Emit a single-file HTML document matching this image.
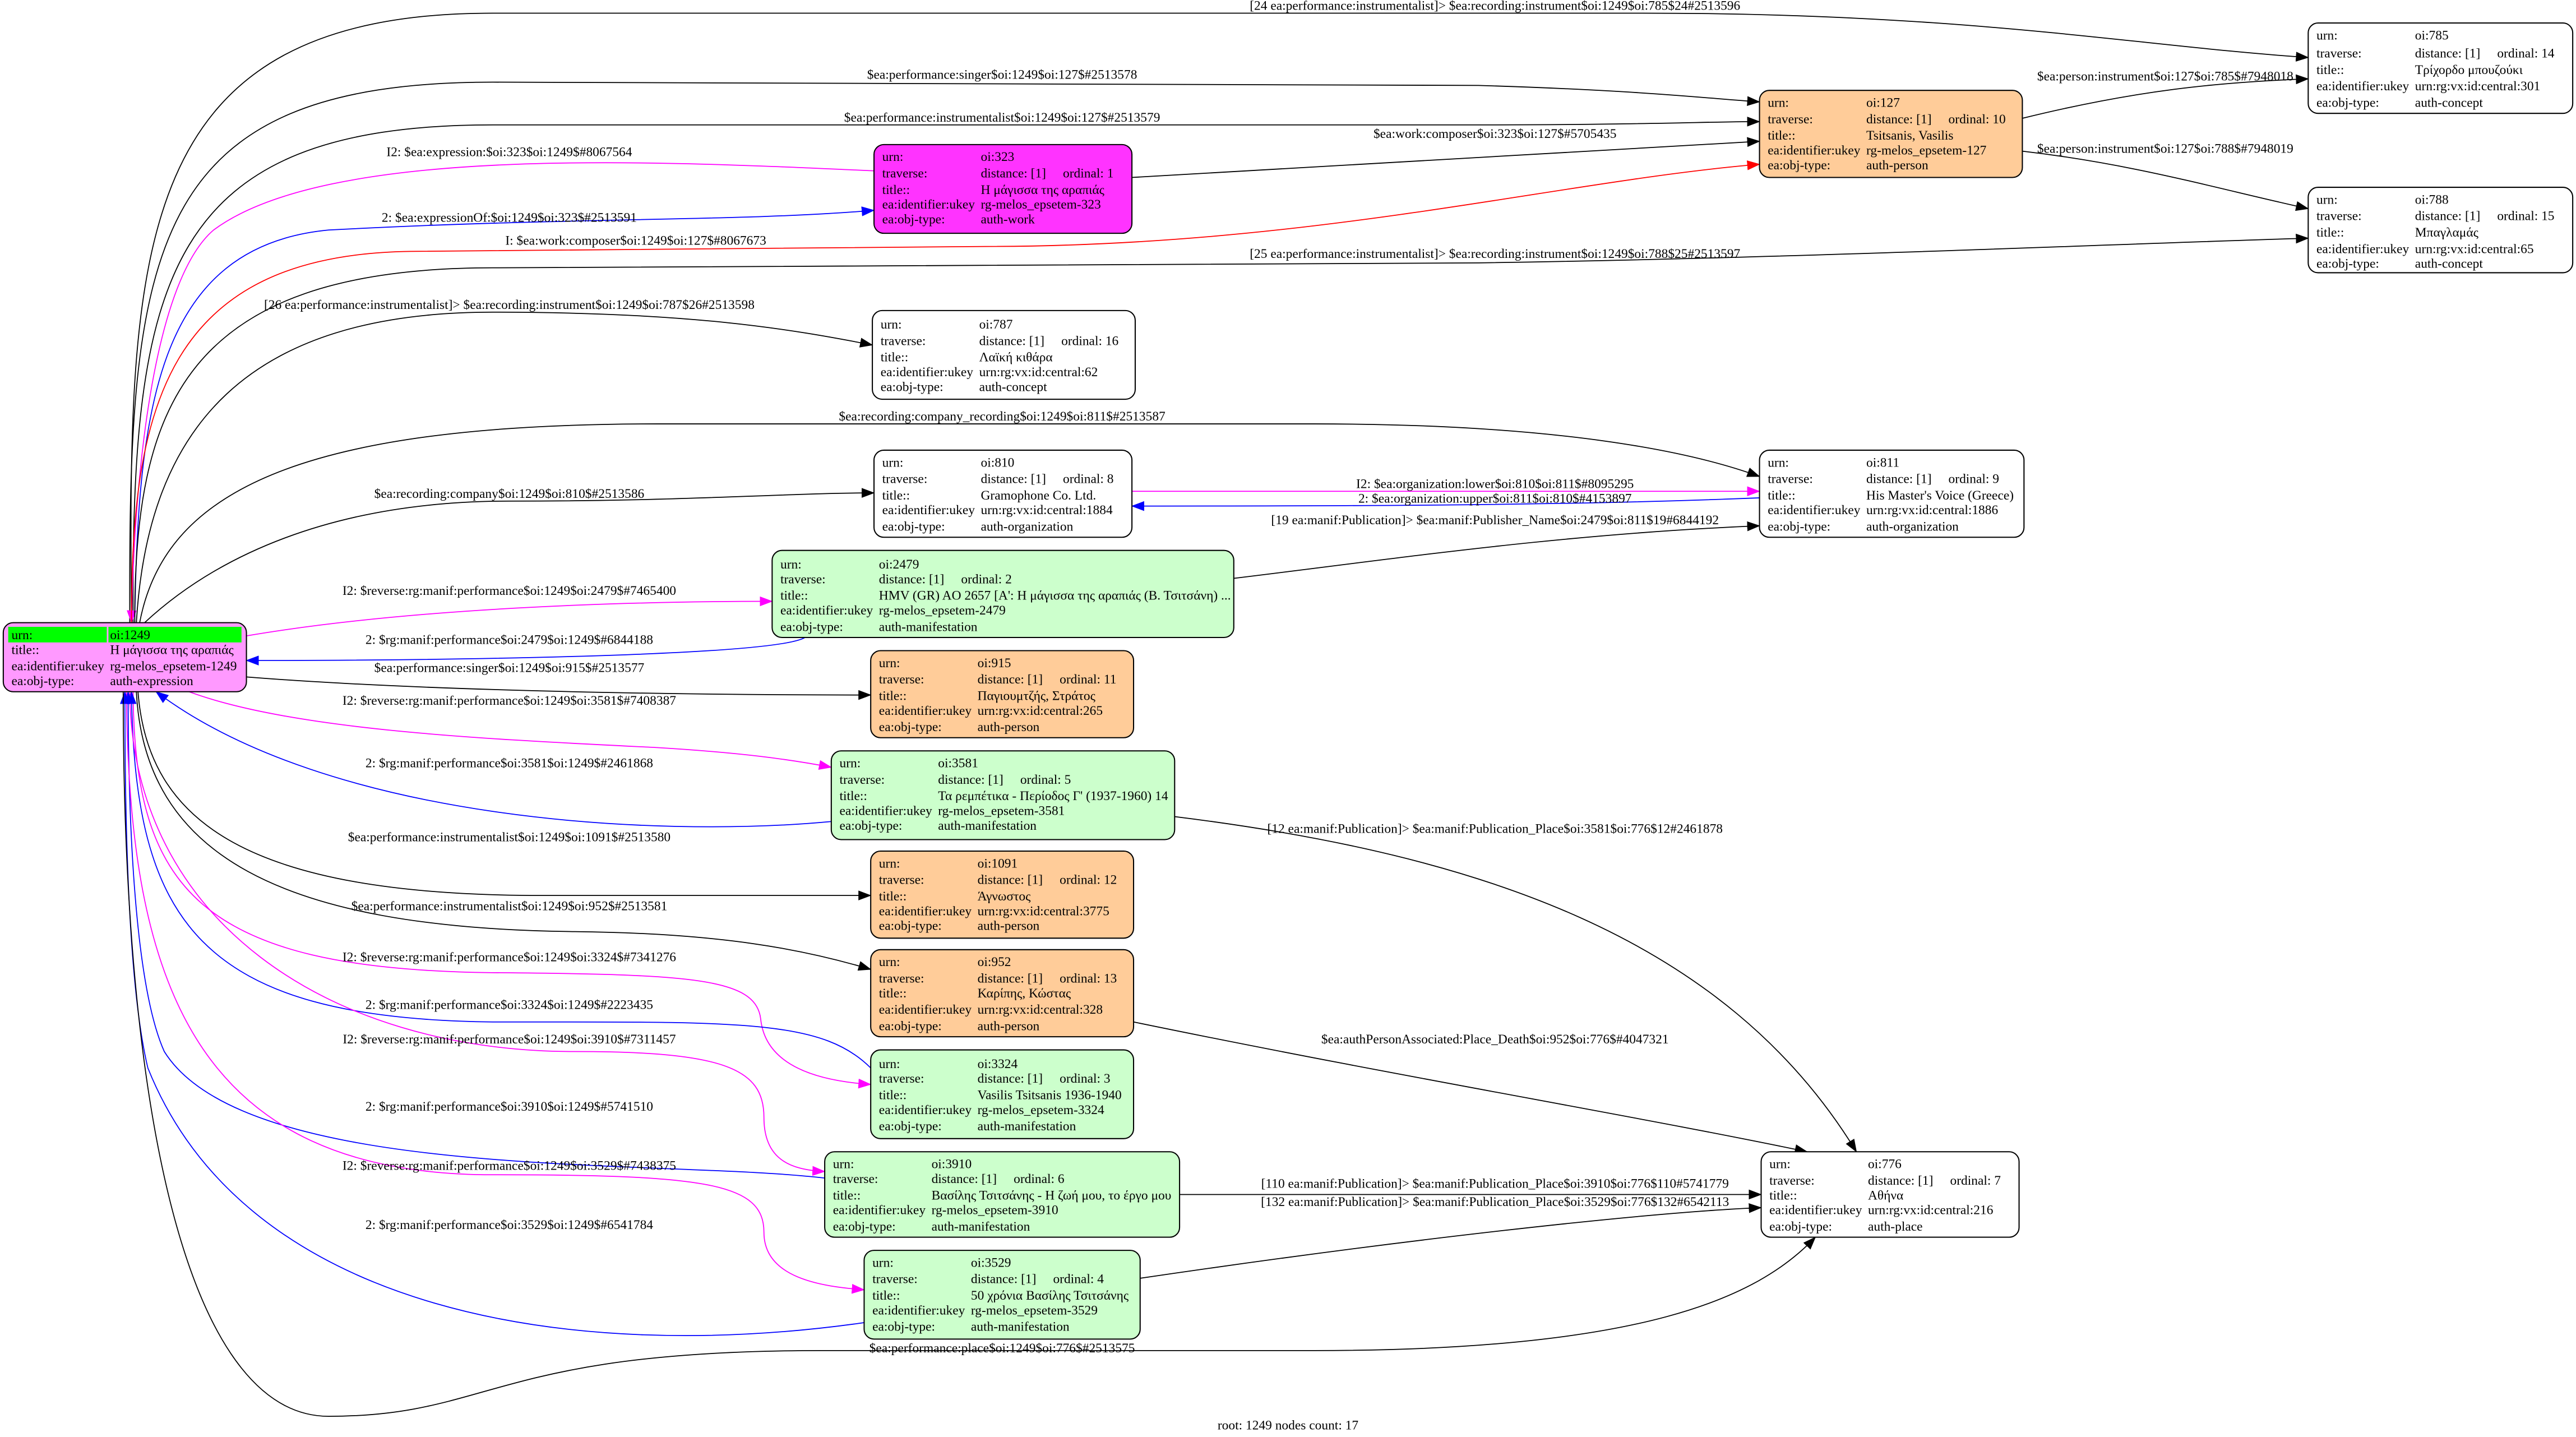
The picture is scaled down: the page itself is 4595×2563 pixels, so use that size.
<!DOCTYPE html>
<html><head><meta charset="utf-8"><style>
html,body{margin:0;padding:0;background:#fff;}
svg{display:block;}
text{font-family:"Liberation Serif","DejaVu Serif",serif;font-size:8px;fill:#000;}
.n{stroke:#000;stroke-width:0.7;}
.e{fill:none;stroke-width:0.6;}
.k{stroke:#000;}.m{stroke:#ff00ff;}.b{stroke:#0000ff;}.r{stroke:#ff0000;}
.lbl{text-anchor:middle;transform:translateY(-2px);}
</style></head><body>
<svg width="4595" height="2563" viewBox="0 0 1568 874.6" xmlns="http://www.w3.org/2000/svg">
<defs>
<marker id="ak" markerWidth="8" markerHeight="6" refX="7.5" refY="3" orient="auto" markerUnits="userSpaceOnUse"><path d="M0,0 L8,3 L0,6z" fill="#000"/></marker>
<marker id="am" markerWidth="8" markerHeight="6" refX="7.5" refY="3" orient="auto" markerUnits="userSpaceOnUse"><path d="M0,0 L8,3 L0,6z" fill="#ff00ff"/></marker>
<marker id="ab" markerWidth="8" markerHeight="6" refX="7.5" refY="3" orient="auto" markerUnits="userSpaceOnUse"><path d="M0,0 L8,3 L0,6z" fill="#0000ff"/></marker>
<marker id="ar" markerWidth="8" markerHeight="6" refX="7.5" refY="3" orient="auto" markerUnits="userSpaceOnUse"><path d="M0,0 L8,3 L0,6z" fill="#ff0000"/></marker>
</defs>
<rect width="1568" height="875" fill="#fff"/>

<path class="e k" marker-end="url(#ak)" d="M80,379 C78,150 80,8 300,8 L1000,8 C1200,8 1300,28 1405,35"/>
<text class="lbl" x="910" y="8">[24 ea:performance:instrumentalist]&gt; $ea:recording:instrument$oi:1249$oi:785$24#2513596</text>
<path class="e k" marker-end="url(#ak)" d="M79,379 C78,150 90,50 300,50 L900,52 C1000,55 1040,60 1071,62"/>
<text class="lbl" x="610" y="50">$ea:performance:singer$oi:1249$oi:127$#2513578</text>
<path class="e k" marker-end="url(#ak)" d="M81,379 C80,170 100,76 300,76 L900,76 C1000,76 1040,74 1071,74"/>
<text class="lbl" x="610" y="76">$ea:performance:instrumentalist$oi:1249$oi:127$#2513579</text>
<path class="e k" marker-end="url(#ak)" d="M689,108 L1071,86"/>
<text class="lbl" x="910" y="86">$ea:work:composer$oi:323$oi:127$#5705435</text>
<path class="e m" marker-end="url(#am)" d="M532,104 C400,98 200,88 130,140 C95,170 82,280 80,379"/>
<text class="lbl" x="310" y="97">I2: $ea:expression:$oi:323$oi:1249$#8067564</text>
<path class="e b" marker-end="url(#ab)" d="M82,379 C84,250 95,150 200,140 C350,132 450,135 532,128"/>
<text class="lbl" x="310" y="137">2: $ea:expressionOf:$oi:1249$oi:323$#2513591</text>
<path class="e r" marker-end="url(#ar)" d="M80,379 C80,250 100,155 250,153 L600,150 C800,150 950,110 1071,100"/>
<text class="lbl" x="387" y="151">I: $ea:work:composer$oi:1249$oi:127$#8067673</text>
<path class="e k" marker-end="url(#ak)" d="M82,379 C82,250 110,163 300,163 L900,160 C1100,157 1300,148 1405,145"/>
<text class="lbl" x="910" y="159">[25 ea:performance:instrumentalist]&gt; $ea:recording:instrument$oi:1249$oi:788$25#2513597</text>
<path class="e k" marker-end="url(#ak)" d="M83,379 C90,260 150,190 300,190 C420,190 480,200 531,210"/>
<text class="lbl" x="310" y="190">[26 ea:performance:instrumentalist]&gt; $ea:recording:instrument$oi:1249$oi:787$26#2513598</text>
<path class="e k" marker-end="url(#ak)" d="M85,379 C100,300 180,258 400,258 L800,258 C950,258 1030,275 1071,290"/>
<text class="lbl" x="610" y="258">$ea:recording:company_recording$oi:1249$oi:811$#2513587</text>
<path class="e k" marker-end="url(#ak)" d="M88,379 C130,340 200,305 310,305 C420,305 480,300 532,300"/>
<text class="lbl" x="310" y="305">$ea:recording:company$oi:1249$oi:810$#2513586</text>
<path class="e m" marker-end="url(#am)" d="M689,299 L1071,299"/>
<text class="lbl" x="910" y="299">I2: $ea:organization:lower$oi:810$oi:811$#8095295</text>
<path class="e b" marker-end="url(#ab)" d="M1071,303 C950,308 800,308 689,308"/>
<text class="lbl" x="910" y="308">2: $ea:organization:upper$oi:811$oi:810$#4153897</text>
<path class="e k" marker-end="url(#ak)" d="M751,352 C850,340 950,325 1071,320"/>
<text class="lbl" x="910" y="321">[19 ea:manif:Publication]&gt; $ea:manif:Publisher_Name$oi:2479$oi:811$19#6844192</text>
<path class="e m" marker-end="url(#am)" d="M150,387 C250,370 380,366 470,366"/>
<text class="lbl" x="310" y="364">I2: $reverse:rg:manif:performance$oi:1249$oi:2479$#7465400</text>
<path class="e b" marker-end="url(#ab)" d="M490,388 C470,400 250,402 150,402"/>
<text class="lbl" x="310" y="394">2: $rg:manif:performance$oi:2479$oi:1249$#6844188</text>
<path class="e k" marker-end="url(#ak)" d="M150,412 C250,420 400,423 530,423"/>
<text class="lbl" x="310" y="411">$ea:performance:singer$oi:1249$oi:915$#2513577</text>
<path class="e m" marker-end="url(#am)" d="M115,421 C180,445 300,450 400,455 C450,458 480,462 506,467"/>
<text class="lbl" x="310" y="431">I2: $reverse:rg:manif:performance$oi:1249$oi:3581$#7408387</text>
<path class="e b" marker-end="url(#ab)" d="M506,500 C400,510 200,500 95,421"/>
<text class="lbl" x="310" y="469">2: $rg:manif:performance$oi:3581$oi:1249$#2461868</text>
<path class="e k" marker-end="url(#ak)" d="M84,421 C90,500 150,545 330,545 L530,545"/>
<text class="lbl" x="310" y="514">$ea:performance:instrumentalist$oi:1249$oi:1091$#2513580</text>
<path class="e k" marker-end="url(#ak)" d="M83,421 C88,520 170,565 350,567 C440,568 490,578 530,590"/>
<text class="lbl" x="310" y="556">$ea:performance:instrumentalist$oi:1249$oi:952$#2513581</text>
<path class="e m" marker-end="url(#am)" d="M81,421 C82,540 120,590 300,592 C420,593 460,595 463,620 C466,650 500,658 530,660"/>
<text class="lbl" x="310" y="587">I2: $reverse:rg:manif:performance$oi:1249$oi:3324$#7341276</text>
<path class="e b" marker-end="url(#ab)" d="M530,650 C500,620 450,622 300,622 C120,620 82,560 80,421"/>
<text class="lbl" x="310" y="616">2: $rg:manif:performance$oi:3324$oi:1249$#2223435</text>
<path class="e m" marker-end="url(#am)" d="M79,421 C80,560 200,640 350,640 C440,640 465,650 465,680 C465,705 480,712 502,713"/>
<text class="lbl" x="310" y="637">I2: $reverse:rg:manif:performance$oi:1249$oi:3910$#7311457</text>
<path class="e b" marker-end="url(#ab)" d="M502,717 C400,705 150,720 100,640 C82,600 78,500 78,421"/>
<text class="lbl" x="310" y="678">2: $rg:manif:performance$oi:3910$oi:1249$#5741510</text>
<path class="e m" marker-end="url(#am)" d="M77,421 C78,600 120,715 300,715 C430,715 465,720 465,750 C465,778 500,783 526,785"/>
<text class="lbl" x="310" y="714">I2: $reverse:rg:manif:performance$oi:1249$oi:3529$#7438375</text>
<path class="e b" marker-end="url(#ab)" d="M526,805 C350,830 150,800 90,650 C78,600 76,500 76,421"/>
<text class="lbl" x="310" y="750">2: $rg:manif:performance$oi:3529$oi:1249$#6541784</text>
<path class="e k" marker-end="url(#ak)" d="M75,421 C75,700 120,862 200,862 C300,862 300,822 500,822 L800,822 C1000,822 1070,790 1105,753"/>
<text class="lbl" x="610" y="825">$ea:performance:place$oi:1249$oi:776$#2513575</text>
<path class="e k" marker-end="url(#ak)" d="M715,497 C900,520 1050,570 1130,701"/>
<text class="lbl" x="910" y="509">[12 ea:manif:Publication]&gt; $ea:manif:Publication_Place$oi:3581$oi:776$12#2461878</text>
<path class="e k" marker-end="url(#ak)" d="M690,622 C850,655 1000,680 1100,701"/>
<text class="lbl" x="910" y="637">$ea:authPersonAssociated:Place_Death$oi:952$oi:776$#4047321</text>
<path class="e k" marker-end="url(#ak)" d="M718,727 L1072,727"/>
<text class="lbl" x="910" y="725">[110 ea:manif:Publication]&gt; $ea:manif:Publication_Place$oi:3910$oi:776$110#5741779</text>
<path class="e k" marker-end="url(#ak)" d="M694,778 C850,755 1000,738 1072,735"/>
<text class="lbl" x="910" y="736">[132 ea:manif:Publication]&gt; $ea:manif:Publication_Place$oi:3529$oi:776$132#6542113</text>
<path class="e k" marker-end="url(#ak)" d="M1231,72 C1300,55 1350,50 1405,48"/>
<text class="lbl" x="1318" y="51">$ea:person:instrument$oi:127$oi:785$#7948018</text>
<path class="e k" marker-end="url(#ak)" d="M1231,92 C1300,100 1350,115 1405,127"/>
<text class="lbl" x="1318" y="95">$ea:person:instrument$oi:127$oi:788$#7948019</text>

<rect class="n" x="2" y="379" width="148" height="42" rx="6" fill="#ff99ff"/>
<rect x="5" y="381.5" width="60" height="9.5" fill="#00ff00"/><rect x="66" y="381.5" width="81" height="9.5" fill="#00ff00"/>
<text x="7" y="389">urn:</text><text x="67" y="389">oi:1249</text>
<text x="7" y="398">title::</text><text x="67" y="398">Η μάγισσα της αραπιάς</text>
<text x="7" y="408">ea:identifier:ukey</text><text x="67" y="408">rg-melos_epsetem-1249</text>
<text x="7" y="417">ea:obj-type:</text><text x="67" y="417">auth-expression</text>

<rect class="n" x="532" y="88" width="157" height="54" rx="6" fill="#ff33ff"/>
<text x="537" y="98">urn:</text><text x="597" y="98">oi:323</text>
<text x="537" y="108">traverse:</text><text x="597" y="108">distance: [1]</text><text x="647" y="108">ordinal: 1</text>
<text x="537" y="118">title::</text><text x="597" y="118">Η μάγισσα της αραπιάς</text>
<text x="537" y="127">ea:identifier:ukey</text><text x="597" y="127">rg-melos_epsetem-323</text>
<text x="537" y="136">ea:obj-type:</text><text x="597" y="136">auth-work</text>

<rect class="n" x="1071" y="55" width="160" height="53" rx="6" fill="#ffcc99"/>
<text x="1076" y="65">urn:</text><text x="1136" y="65">oi:127</text>
<text x="1076" y="75">traverse:</text><text x="1136" y="75">distance: [1]</text><text x="1186" y="75">ordinal: 10</text>
<text x="1076" y="85">title::</text><text x="1136" y="85">Tsitsanis, Vasilis</text>
<text x="1076" y="94">ea:identifier:ukey</text><text x="1136" y="94">rg-melos_epsetem-127</text>
<text x="1076" y="103">ea:obj-type:</text><text x="1136" y="103">auth-person</text>

<rect class="n" x="1405" y="14" width="161" height="55" rx="6" fill="#fff"/>
<text x="1410" y="24">urn:</text><text x="1470" y="24">oi:785</text>
<text x="1410" y="35">traverse:</text><text x="1470" y="35">distance: [1]</text><text x="1520" y="35">ordinal: 14</text>
<text x="1410" y="45">title::</text><text x="1470" y="45">Τρίχορδο μπουζούκι</text>
<text x="1410" y="55">ea:identifier:ukey</text><text x="1470" y="55">urn:rg:vx:id:central:301</text>
<text x="1410" y="65">ea:obj-type:</text><text x="1470" y="65">auth-concept</text>

<rect class="n" x="1405" y="114" width="161" height="52" rx="6" fill="#fff"/>
<text x="1410" y="124">urn:</text><text x="1470" y="124">oi:788</text>
<text x="1410" y="134">traverse:</text><text x="1470" y="134">distance: [1]</text><text x="1520" y="134">ordinal: 15</text>
<text x="1410" y="144">title::</text><text x="1470" y="144">Μπαγλαμάς</text>
<text x="1410" y="154">ea:identifier:ukey</text><text x="1470" y="154">urn:rg:vx:id:central:65</text>
<text x="1410" y="163">ea:obj-type:</text><text x="1470" y="163">auth-concept</text>

<rect class="n" x="531" y="189" width="160" height="54" rx="6" fill="#fff"/>
<text x="536" y="200">urn:</text><text x="596" y="200">oi:787</text>
<text x="536" y="210">traverse:</text><text x="596" y="210">distance: [1]</text><text x="646" y="210">ordinal: 16</text>
<text x="536" y="220">title::</text><text x="596" y="220">Λαϊκή κιθάρα</text>
<text x="536" y="229">ea:identifier:ukey</text><text x="596" y="229">urn:rg:vx:id:central:62</text>
<text x="536" y="238">ea:obj-type:</text><text x="596" y="238">auth-concept</text>

<rect class="n" x="532" y="274" width="157" height="53" rx="6" fill="#fff"/>
<text x="537" y="284">urn:</text><text x="597" y="284">oi:810</text>
<text x="537" y="294">traverse:</text><text x="597" y="294">distance: [1]</text><text x="647" y="294">ordinal: 8</text>
<text x="537" y="304">title::</text><text x="597" y="304">Gramophone Co. Ltd.</text>
<text x="537" y="313">ea:identifier:ukey</text><text x="597" y="313">urn:rg:vx:id:central:1884</text>
<text x="537" y="323">ea:obj-type:</text><text x="597" y="323">auth-organization</text>

<rect class="n" x="1071" y="274" width="161" height="53" rx="6" fill="#fff"/>
<text x="1076" y="284">urn:</text><text x="1136" y="284">oi:811</text>
<text x="1076" y="294">traverse:</text><text x="1136" y="294">distance: [1]</text><text x="1186" y="294">ordinal: 9</text>
<text x="1076" y="304">title::</text><text x="1136" y="304">His Master's Voice (Greece)</text>
<text x="1076" y="313">ea:identifier:ukey</text><text x="1136" y="313">urn:rg:vx:id:central:1886</text>
<text x="1076" y="323">ea:obj-type:</text><text x="1136" y="323">auth-organization</text>

<rect class="n" x="470" y="335" width="281" height="53" rx="6" fill="#ccffcc"/>
<text x="475" y="346">urn:</text><text x="535" y="346">oi:2479</text>
<text x="475" y="355">traverse:</text><text x="535" y="355">distance: [1]</text><text x="585" y="355">ordinal: 2</text>
<text x="475" y="365">title::</text><text x="535" y="365">HMV (GR) AO 2657 [A': Η μάγισσα της αραπιάς (Β. Τσιτσάνη) ...</text>
<text x="475" y="374">ea:identifier:ukey</text><text x="535" y="374">rg-melos_epsetem-2479</text>
<text x="475" y="384">ea:obj-type:</text><text x="535" y="384">auth-manifestation</text>

<rect class="n" x="530" y="396" width="160" height="53" rx="6" fill="#ffcc99"/>
<text x="535" y="406">urn:</text><text x="595" y="406">oi:915</text>
<text x="535" y="416">traverse:</text><text x="595" y="416">distance: [1]</text><text x="645" y="416">ordinal: 11</text>
<text x="535" y="426">title::</text><text x="595" y="426">Παγιουμτζής, Στράτος</text>
<text x="535" y="435">ea:identifier:ukey</text><text x="595" y="435">urn:rg:vx:id:central:265</text>
<text x="535" y="445">ea:obj-type:</text><text x="595" y="445">auth-person</text>

<rect class="n" x="506" y="457" width="209" height="54" rx="6" fill="#ccffcc"/>
<text x="511" y="467">urn:</text><text x="571" y="467">oi:3581</text>
<text x="511" y="477">traverse:</text><text x="571" y="477">distance: [1]</text><text x="621" y="477">ordinal: 5</text>
<text x="511" y="487">title::</text><text x="571" y="487">Τα ρεμπέτικα - Περίοδος Γ' (1937-1960) 14</text>
<text x="511" y="496">ea:identifier:ukey</text><text x="571" y="496">rg-melos_epsetem-3581</text>
<text x="511" y="505">ea:obj-type:</text><text x="571" y="505">auth-manifestation</text>

<rect class="n" x="530" y="518" width="160" height="53" rx="6" fill="#ffcc99"/>
<text x="535" y="528">urn:</text><text x="595" y="528">oi:1091</text>
<text x="535" y="538">traverse:</text><text x="595" y="538">distance: [1]</text><text x="645" y="538">ordinal: 12</text>
<text x="535" y="548">title::</text><text x="595" y="548">Άγνωστος</text>
<text x="535" y="557">ea:identifier:ukey</text><text x="595" y="557">urn:rg:vx:id:central:3775</text>
<text x="535" y="566">ea:obj-type:</text><text x="595" y="566">auth-person</text>

<rect class="n" x="530" y="578" width="160" height="53" rx="6" fill="#ffcc99"/>
<text x="535" y="588">urn:</text><text x="595" y="588">oi:952</text>
<text x="535" y="598">traverse:</text><text x="595" y="598">distance: [1]</text><text x="645" y="598">ordinal: 13</text>
<text x="535" y="607">title::</text><text x="595" y="607">Καρίπης, Κώστας</text>
<text x="535" y="617">ea:identifier:ukey</text><text x="595" y="617">urn:rg:vx:id:central:328</text>
<text x="535" y="627">ea:obj-type:</text><text x="595" y="627">auth-person</text>

<rect class="n" x="530" y="639" width="160" height="54" rx="6" fill="#ccffcc"/>
<text x="535" y="650">urn:</text><text x="595" y="650">oi:3324</text>
<text x="535" y="659">traverse:</text><text x="595" y="659">distance: [1]</text><text x="645" y="659">ordinal: 3</text>
<text x="535" y="669">title::</text><text x="595" y="669">Vasilis Tsitsanis 1936-1940</text>
<text x="535" y="678">ea:identifier:ukey</text><text x="595" y="678">rg-melos_epsetem-3324</text>
<text x="535" y="688">ea:obj-type:</text><text x="595" y="688">auth-manifestation</text>

<rect class="n" x="502" y="701" width="216" height="52" rx="6" fill="#ccffcc"/>
<text x="507" y="711">urn:</text><text x="567" y="711">oi:3910</text>
<text x="507" y="720">traverse:</text><text x="567" y="720">distance: [1]</text><text x="617" y="720">ordinal: 6</text>
<text x="507" y="730">title::</text><text x="567" y="730">Βασίλης Τσιτσάνης - Η ζωή μου, το έργο μου</text>
<text x="507" y="739">ea:identifier:ukey</text><text x="567" y="739">rg-melos_epsetem-3910</text>
<text x="507" y="749">ea:obj-type:</text><text x="567" y="749">auth-manifestation</text>

<rect class="n" x="526" y="761" width="168" height="54" rx="6" fill="#ccffcc"/>
<text x="531" y="771">urn:</text><text x="591" y="771">oi:3529</text>
<text x="531" y="781">traverse:</text><text x="591" y="781">distance: [1]</text><text x="641" y="781">ordinal: 4</text>
<text x="531" y="791">title::</text><text x="591" y="791">50 χρόνια Βασίλης Τσιτσάνης</text>
<text x="531" y="800">ea:identifier:ukey</text><text x="591" y="800">rg-melos_epsetem-3529</text>
<text x="531" y="810">ea:obj-type:</text><text x="591" y="810">auth-manifestation</text>

<rect class="n" x="1072" y="701" width="157" height="52" rx="6" fill="#fff"/>
<text x="1077" y="711">urn:</text><text x="1137" y="711">oi:776</text>
<text x="1077" y="721">traverse:</text><text x="1137" y="721">distance: [1]</text><text x="1187" y="721">ordinal: 7</text>
<text x="1077" y="730">title::</text><text x="1137" y="730">Αθήνα</text>
<text x="1077" y="739">ea:identifier:ukey</text><text x="1137" y="739">urn:rg:vx:id:central:216</text>
<text x="1077" y="749">ea:obj-type:</text><text x="1137" y="749">auth-place</text>

<text x="784" y="870" text-anchor="middle">root: 1249 nodes count: 17</text>
</svg>
</body></html>
